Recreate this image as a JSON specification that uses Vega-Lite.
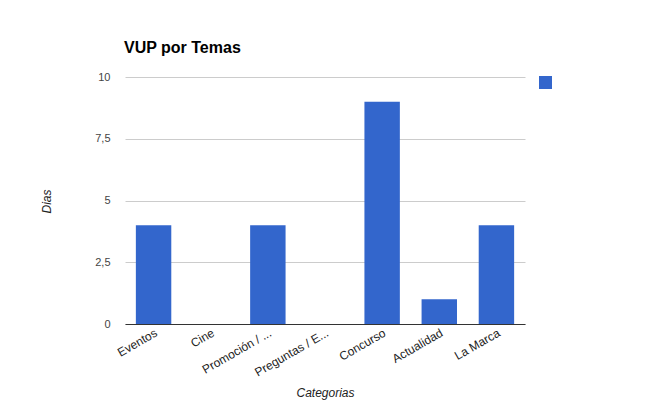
{
  "$schema": "https://vega.github.io/schema/vega-lite/v6.json",
  "width": 400,
  "height": 247,
  "autosize": {"type": "none"},
  "padding": {"left": 125, "top": 77, "right": 125, "bottom": 78},
  "background": "white",
  "config": {
    "font": "Liberation Sans",
    "view": {"stroke": null}
  },
  "title": {
    "text": "VUP por Temas",
    "anchor": "start",
    "frame": "group",
    "fontSize": 16,
    "fontWeight": "bold",
    "color": "#000000",
    "baseline": "alphabetic",
    "offset": 2,
    "dx": -1
  },
  "data": {
    "values": [
      {"categoria": "Eventos", "dias": 4},
      {"categoria": "Cine", "dias": 0},
      {"categoria": "Promoción / ...", "dias": 4},
      {"categoria": "Preguntas / E...", "dias": 0},
      {"categoria": "Concurso", "dias": 9},
      {"categoria": "Actualidad", "dias": 1},
      {"categoria": "La Marca", "dias": 4}
    ]
  },
  "mark": {"type": "bar"},
  "encoding": {
    "x": {
      "field": "categoria",
      "type": "nominal",
      "sort": null,
      "scale": {"paddingInner": 0.38, "paddingOuter": 0.19},
      "axis": {
        "title": "Categorias",
        "titleFontStyle": "italic",
        "titleFontWeight": "normal",
        "titleFontSize": 12,
        "titleColor": "#222222",
        "titleX": 200,
        "titleY": 68,
        "titleAlign": "center",
        "titleBaseline": "middle",
        "labelAngle": -30,
        "labelAlign": "right",
        "labelBaseline": "top",
        "labelFontSize": 12,
        "labelColor": "#222222",
        "labelPadding": 3,
        "labelLimit": 0,
        "ticks": false,
        "domainColor": "#333333",
        "domainWidth": 1,
        "grid": false
      }
    },
    "y": {
      "field": "dias",
      "type": "quantitative",
      "scale": {"domain": [0, 10], "nice": false},
      "axis": {
        "title": "Dias",
        "titleFontStyle": "italic",
        "titleFontWeight": "normal",
        "titleFontSize": 12,
        "titleColor": "#222222",
        "titleAngle": -90,
        "titleX": -79,
        "titleY": 124,
        "titleAlign": "center",
        "titleBaseline": "middle",
        "values": [0, 2.5, 5, 7.5, 10],
        "format": ".1~f",
        "labelExpr": "replace(datum.label, '.', ',')",
        "labelFontSize": 11,
        "labelColor": "#444444",
        "labelPadding": 15,
        "ticks": false,
        "domain": false,
        "grid": true,
        "gridColor": "#cccccc",
        "gridWidth": 1
      }
    },
    "color": {
      "datum": "Dias",
      "type": "nominal",
      "scale": {"range": ["#3366cc"]},
      "legend": {
        "title": null,
        "orient": "none",
        "legendX": 414,
        "legendY": -1,
        "symbolType": "square",
        "symbolSize": 169,
        "symbolStrokeWidth": 0,
        "labelExpr": "''"
      }
    }
  }
}
